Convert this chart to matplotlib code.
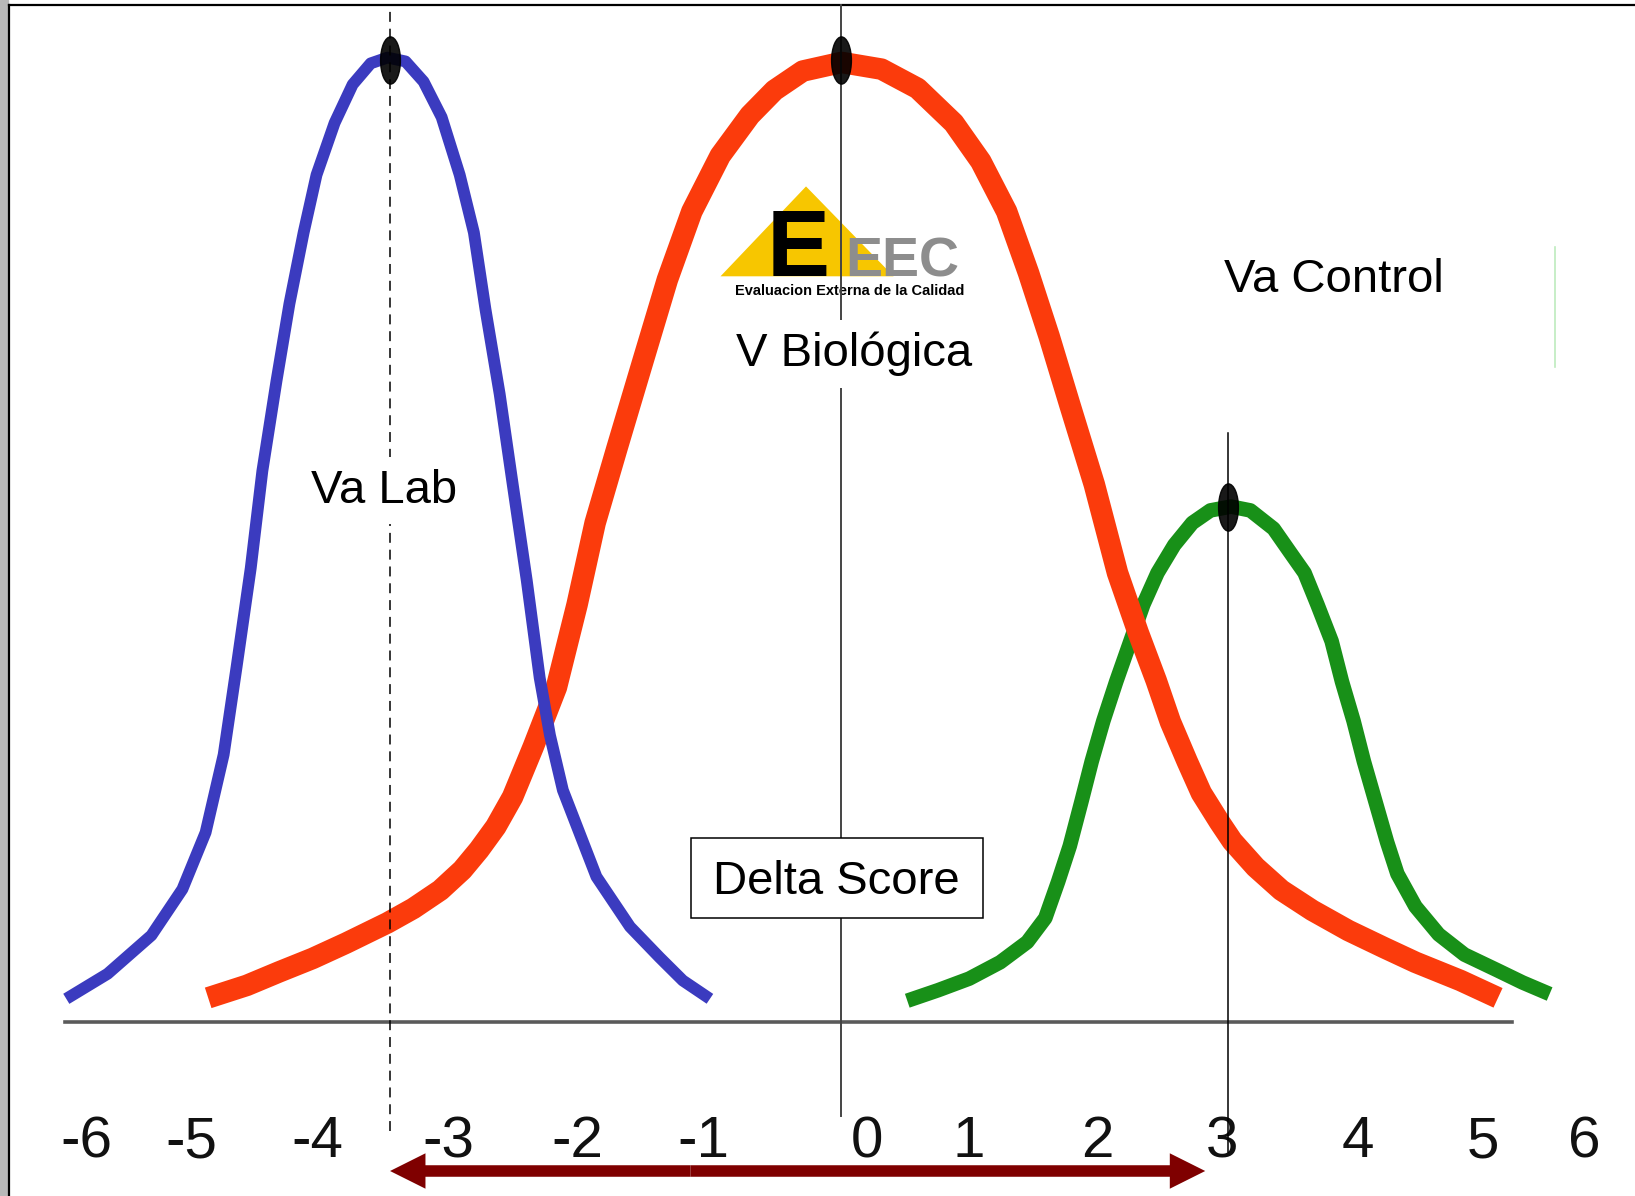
import matplotlib.pyplot as plt
from matplotlib.path import Path
from matplotlib.transforms import Affine2D
from matplotlib.patches import Polygon, Rectangle, FancyArrowPatch

# curves (x in score units, y relative to the tallest peak)
lab_x = [-6.01, -5.69, -5.35, -5.11, -4.93, -4.79, -4.69, -4.58, -4.49, -4.38, -4.28, -4.17, -4.07,
         -3.93, -3.79, -3.65, -3.52, -3.38, -3.24, -3.10, -2.96, -2.85, -2.76, -2.65, -2.55, -2.44,
         -2.34, -2.26, -2.16, -1.90, -1.64, -1.41, -1.23, -1.02]
lab_y = [0.024, 0.050, 0.090, 0.138, 0.197, 0.278, 0.369, 0.472, 0.573, 0.667, 0.747, 0.821, 0.881,
         0.935, 0.975, 0.997, 1.003, 0.999, 0.978, 0.941, 0.881, 0.821, 0.741, 0.653, 0.560, 0.459,
         0.358, 0.298, 0.241, 0.151, 0.099, 0.067, 0.043, 0.024]

bio_x = [-4.91, -4.61, -4.36, -4.10, -3.84, -3.52, -3.32, -3.11, -2.94, -2.81, -2.68, -2.55, -2.39,
         -2.21, -2.05, -1.91, -1.74, -1.54, -1.35, -1.16, -0.94, -0.71, -0.52, -0.30, 0.0, 0.31,
         0.59, 0.87, 1.08, 1.28, 1.45, 1.61, 1.77, 1.96, 2.14, 2.30, 2.44, 2.55, 2.68, 2.79, 2.93,
         3.03, 3.21, 3.41, 3.65, 3.93, 4.21, 4.45, 4.80, 5.09]
bio_y = [0.025, 0.038, 0.052, 0.066, 0.082, 0.103, 0.118, 0.137, 0.158, 0.179, 0.203, 0.234, 0.286,
         0.348, 0.434, 0.519, 0.597, 0.687, 0.772, 0.843, 0.901, 0.943, 0.969, 0.989, 0.998, 0.991,
         0.971, 0.935, 0.895, 0.843, 0.779, 0.713, 0.642, 0.559, 0.467, 0.405, 0.355, 0.312, 0.271,
         0.238, 0.208, 0.188, 0.161, 0.137, 0.116, 0.095, 0.077, 0.062, 0.043, 0.025]

ctrl_x = [0.51, 0.75, 0.99, 1.23, 1.44, 1.58, 1.68, 1.77, 1.86, 1.94, 2.03, 2.13, 2.24, 2.34, 2.45,
          2.58, 2.72, 2.86, 3.02, 3.17, 3.35, 3.48, 3.59, 3.69, 3.80, 3.88, 3.97, 4.05, 4.14, 4.23,
          4.31, 4.45, 4.63, 4.83, 5.08, 5.28, 5.49]
ctrl_y = [0.022, 0.033, 0.045, 0.062, 0.083, 0.108, 0.146, 0.183, 0.229, 0.271, 0.313, 0.354, 0.396,
          0.434, 0.467, 0.496, 0.519, 0.532, 0.536, 0.532, 0.513, 0.488, 0.467, 0.434, 0.396, 0.354,
          0.313, 0.271, 0.229, 0.187, 0.154, 0.120, 0.091, 0.070, 0.054, 0.041, 0.029]

peak_x = [-3.5, 0.0, 3.0]
peak_y = [1.0, 1.0, 0.536]

tick_text = ['-6', '-5', '-4', '-3', '-2', '-1', '0', '1', '2', '3', '4', '5', '6']
tick_pos = [-5.85, -5.04, -4.06, -3.05, -2.05, -1.07, 0.20, 0.99, 1.98, 2.95, 4.00, 4.97, 5.76]

delta_from, delta_to = -3.5, 2.82

blue, red, green = '#3b3bbf', '#fb3b0c', '#189018'
plt.rcParams['font.family'] = ['Liberation Sans', 'DejaVu Sans']

fig = plt.figure(figsize=(16.35, 11.96), dpi=100)
ax = fig.add_axes([0, 0, 1, 1])
ax.set_xlim(-6.524, 6.152)
ax.set_ylim(-0.1811, 1.0629)
ax.axis('off')

# frame of the slide
ax.add_patch(Rectangle((0, 0), 0.0051, 1, transform=ax.transAxes, color='#b8b8b8', clip_on=False))
ax.plot([0.0055, 1], [0.9957, 0.9957], transform=ax.transAxes, color='black', lw=1.6, clip_on=False)
ax.plot([0.0058, 0.0058], [0, 0.9957], transform=ax.transAxes, color='black', lw=1.6, clip_on=False)

# base line
ax.plot([-6.02, 5.20], [0, 0], color='#5a5a5a', lw=2.6, zorder=1)

# curves
style = dict(solid_capstyle='butt', solid_joinstyle='round')
ax.plot(ctrl_x, ctrl_y, color=green, lw=10.5, zorder=2, **style)
ax.plot(bio_x, bio_y, color=red, lw=15.5, zorder=3, **style)
ax.plot(lab_x, lab_y, color=blue, lw=8.5, zorder=4, **style)

# logo
ax.add_patch(Polygon([[-0.275, 0.869], [-0.938, 0.7755], [0.404, 0.7755]], closed=True,
                     color='#f7c600', lw=0, zorder=4.5))
ax.text(-0.58, 0.7755, 'E', fontsize=68, fontweight='bold', color='black',
        ha='left', va='baseline', zorder=4.6)
ax.text(0.47, 0.7755, 'EEC', fontsize=40, fontweight='bold', color='#8d8d8d',
        ha='center', va='baseline', zorder=4.6)
ax.text(0.065, 0.7560, 'Evaluacion Externa de la Calidad', fontsize=10.5, fontweight='bold',
        ha='center', va='baseline', zorder=4.6)

# reference lines through the means
ax.plot([peak_x[0]] * 2, [-0.114, 1.0575], color='black', lw=1.1, ls=(0, (6.5, 4.5)), zorder=5)
ax.plot([peak_x[1]] * 2, [-0.0976, 1.0575], color='#444444', lw=1.4, zorder=5)
ax.plot([peak_x[2]] * 2, [-0.1356, 0.6128], color='black', lw=1.1, zorder=5)

# faint leftover mark at the right
ax.plot([5.53, 5.53], [0.681, 0.806], color='#7ed87e', lw=1.2, alpha=0.5, zorder=1)

# peak dots
ell = Path.unit_circle().transformed(Affine2D().scale(0.42, 1.0))
ax.plot(peak_x, peak_y, ls='none', marker=ell, ms=34, color='black', alpha=0.9, zorder=8)

# labels
box = dict(facecolor='white', edgecolor='none', pad=8)
ax.text(-3.55, 0.540, 'Va Lab', fontsize=34, ha='center', va='baseline', bbox=box, zorder=7)
ax.text(0.10, 0.682, 'V Biológica', fontsize=34, ha='center', va='baseline', bbox=box, zorder=7)
ax.text(3.82, 0.759, 'Va Control', fontsize=34, ha='center', va='baseline', zorder=7)

ax.add_patch(Rectangle((-1.166, 0.1085), 2.266, 0.0827, facecolor='white', edgecolor='black',
                       lw=1.1, zorder=6))
ax.text(-0.04, 0.133, 'Delta Score', fontsize=34, ha='center', va='baseline', zorder=7)

# score axis labels
for pos, lab in zip(tick_pos, tick_text):
    ax.text(pos, -0.141, lab, fontsize=42, ha='center', va='baseline', color='#111111',
            family=['Liberation Sans Narrow', 'Liberation Sans'], fontstretch='condensed')

# delta arrow, drawn as two halves meeting in the middle
mid = -1.17
for end in (delta_from, delta_to):
    ax.add_patch(FancyArrowPatch((mid, -0.1551), (end, -0.1551), mutation_scale=1,
                                 arrowstyle='simple,head_length=25.5,head_width=25.5,tail_width=8.3',
                                 color='#7f0000', lw=0, shrinkA=0, shrinkB=0, zorder=6))

fig.savefig('out.png', dpi=100, facecolor='white')
